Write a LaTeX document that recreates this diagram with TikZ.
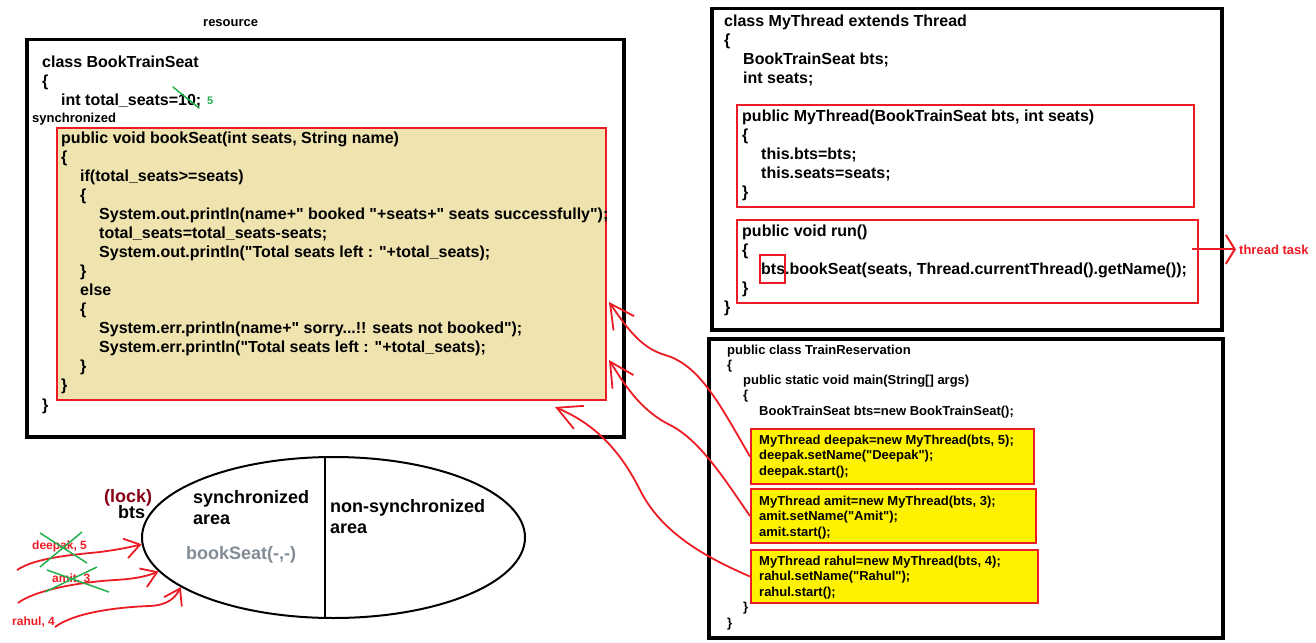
\documentclass[tikz,border=0pt]{standalone}
\usepackage{fontspec}
\setmainfont[Ligatures=TeXOff]{Liberation Sans}
\usepackage{xcolor}
\usepackage{tikz}
\usetikzlibrary{arrows.meta,shapes.geometric}

\definecolor{paintred}{RGB}{237,28,36}
\definecolor{paintgreen}{RGB}{34,177,76}
\definecolor{lockred}{RGB}{136,0,21}
\definecolor{tanfill}{RGB}{239,228,176}
\definecolor{paintyellow}{RGB}{255,242,0}
\definecolor{slate}{RGB}{130,140,150}
\newcommand{\idt}{\hspace*{19pt}}
\newcommand{\idts}{\hspace*{16pt}}

\begin{document}
\begin{tikzpicture}[x=1pt, y=-1pt,
    outer/.style={draw=black, line width=3.5pt, inner sep=0pt, anchor=north west},
    method/.style={draw=paintred, line width=2pt, inner sep=0pt, anchor=north west},
    code/.style={anchor=base west, align=left, inner sep=0pt, font=\fontsize{16}{19}\selectfont\bfseries},
    small/.style={anchor=base west, align=left, inner sep=0pt, font=\fontsize{13}{15.3}\selectfont\bfseries},
    tag/.style={anchor=base west, inner sep=0pt, font=\fontsize{13}{15}\selectfont\bfseries},
    big/.style={anchor=base west, align=left, inner sep=0pt, font=\fontsize{18}{21}\selectfont\bfseries},
    who/.style={tag, text=paintred, font=\fontsize{12}{14}\selectfont\bfseries},
    call/.style={draw=paintred, line width=1.8pt, -{Straight Barb[length=24pt, width=25pt]}},
    hand/.style={draw=paintred, line width=1.8pt, -{Straight Barb[length=15pt, width=20pt]}},
    cross/.style={draw=paintgreen, line width=1.5pt}]

    \useasboundingbox (0,0) rectangle (1316,642);
    \fill[white] (0,0) rectangle (1316,642);

    % multi-line code nodes sit on the baseline of their last line
    \node[tag] (resource) at (203,27) {resource};
    \node[outer, minimum width=597pt, minimum height=397pt] (seatcls) at (25,38) {};
    \node[code] (seathead) at (42,105) {class BookTrainSeat\\\{\\\idt int total\_seats=10;};
    \draw[cross, line cap=round] (173,87) -- (199,108);
    \node[tag, text=paintgreen, font=\fontsize{11}{13}\selectfont\bfseries] (newseats) at (207,104) {5};
    \node[tag] (synclabel) at (32,122) {synchronized};
    \node[method, fill=tanfill, minimum width=549pt, minimum height=272pt] (bookseat) at (56,127) {};
    \node[code] (bookcode) at (61,390) {public void bookSeat(int seats, String name)\\\{\\
        \idt if(total\_seats>=seats)\\\idt\{\\
        \idt\idt System.out.println(name+" booked "+seats+" seats successfully");\\
        \idt\idt total\_seats=total\_seats-seats;\\
        \idt\idt System.out.println("Total seats left : "+total\_seats);\\
        \idt\}\\\idt else\\\idt\{\\
        \idt\idt System.err.println(name+" sorry...!! seats not booked");\\
        \idt\idt System.err.println("Total seats left : "+total\_seats);\\
        \idt\}\\\}};
    \node[code] (seatend) at (42,410) {\}};

    \node[outer, minimum width=510pt, minimum height=321pt] (mythread) at (710,7) {};
    \node[code] (threadhead) at (724,83) {class MyThread extends Thread\\\{\\\idt BookTrainSeat bts;\\\idt int seats;};
    \node[method, minimum width=457pt, minimum height=102pt] (ctor) at (736,104) {};
    \node[code] (ctorcode) at (742,197) {public MyThread(BookTrainSeat bts, int seats)\\\{\\\idt this.bts=bts;\\\idt this.seats=seats;\\\}};
    \node[method, minimum width=461pt, minimum height=83pt] (run) at (736,219) {};
    \node[code] (runcode) at (742,293) {public void run()\\\{\\\idt bts.bookSeat(seats, Thread.currentThread().getName());\\\}};
    \node[method, line width=1.8pt, minimum width=25pt, minimum height=28pt] (btsref) at (759,254) {};
    \node[code] (threadend) at (724,312) {\}};
    \node[tag, text=paintred] (task) at (1239,254) {thread task};
    \draw[paintred, line width=2pt, -{Straight Barb[length=9pt, width=29pt]}] ([xshift=-7pt]run.east |- task.west) -- ([xshift=-3pt]task.west);

    \node[outer, minimum width=514pt, minimum height=299pt] (mainbox) at (707,337) {};
    \node[small] (maincode) at (727,415.2) {public class TrainReservation\\\{\\
        \idts public static void main(String[] args)\\\idts\{\\
        \idts\idts BookTrainSeat bts=new BookTrainSeat();};
    \node[method, fill=paintyellow, minimum width=283pt, minimum height=55pt] (deepakbox) at (750,428) {};
    \node[small] (deepakcode) at (759,475.1) {MyThread deepak=new MyThread(bts, 5);\\deepak.setName("Deepak");\\deepak.start();};
    \node[method, fill=paintyellow, minimum width=285pt, minimum height=54pt] (amitbox) at (750,488) {};
    \node[small] (amitcode) at (759,536.1) {MyThread amit=new MyThread(bts, 3);\\amit.setName("Amit");\\amit.start();};
    \node[method, fill=paintyellow, minimum width=287pt, minimum height=53pt] (rahulbox) at (750,549) {};
    \node[small] (rahulcode) at (759,596.1) {MyThread rahul=new MyThread(bts, 4);\\rahul.setName("Rahul");\\rahul.start();};
    \node[small] (mainend) at (743,611.5) {\}};
    \node[small] (classend) at (727,627.5) {\}};

    \draw[call] (deepakbox.west) .. controls (720,405) and (700,365) .. (665,355) .. controls (640,348) and (625,325) .. ([xshift=2pt, yshift=99pt]bookseat.south east);
    \draw[call] (amitbox.west) .. controls (725,480) and (700,440) .. (670,425) .. controls (640,410) and (625,385) .. ([xshift=2pt, yshift=41pt]bookseat.south east);
    \draw[call] (rahulbox.west) .. controls (700,555) and (660,530) .. (640,490) .. controls (615,440) and (585,420) .. ([xshift=-52pt, yshift=-6pt]bookseat.south east);

    \node[ellipse, draw, line width=2pt, inner sep=0pt, minimum width=383pt, minimum height=161pt] (sync) at (333.5,537.5) {};
    \draw[line width=2pt] ([xshift=-9pt]sync.north) -- ([xshift=-9pt]sync.south);
    \node[big, text=lockred] (lock) at (104,502) {(lock)};
    \node[big] (lockvar) at (118,518) {bts};
    \node[big] (syncarea) at (193,524) {synchronized\\area};
    \node[big, text=slate] (syncmethod) at (186,559) {bookSeat(-,-)};
    \node[big] (freearea) at (330,533) {non-synchronized\\area};

    \node[who] (deepak) at (32,549) {deepak, 5};
    \node[who] (amit) at (52,582) {amit, 3};
    \node[who] (rahul) at (12,625) {rahul, 4};
    \coordinate (dtail) at (17,570);
    \coordinate (atail) at (18,603);
    \coordinate (rtail) at (55,627);
    \draw[hand] (dtail) .. controls (35,558) and (70,555) .. (100,552) .. controls (115,550) and (127,548) .. (sync.182);
    \draw[hand] (atail) .. controls (35,590) and (80,582) .. (115,580) .. controls (132,579) and (145,577) .. (sync.191);
    \draw[hand] (rtail) .. controls (75,612) and (120,607) .. (150,606) .. controls (168,605) and (175,598) .. (sync.198);
    \draw[cross] (40,533) -- (87,563) (82,532) -- (40,567);
    \draw[cross] (47,570) -- (109,592) (97,567) -- (45,592);
\end{tikzpicture}
\end{document}
